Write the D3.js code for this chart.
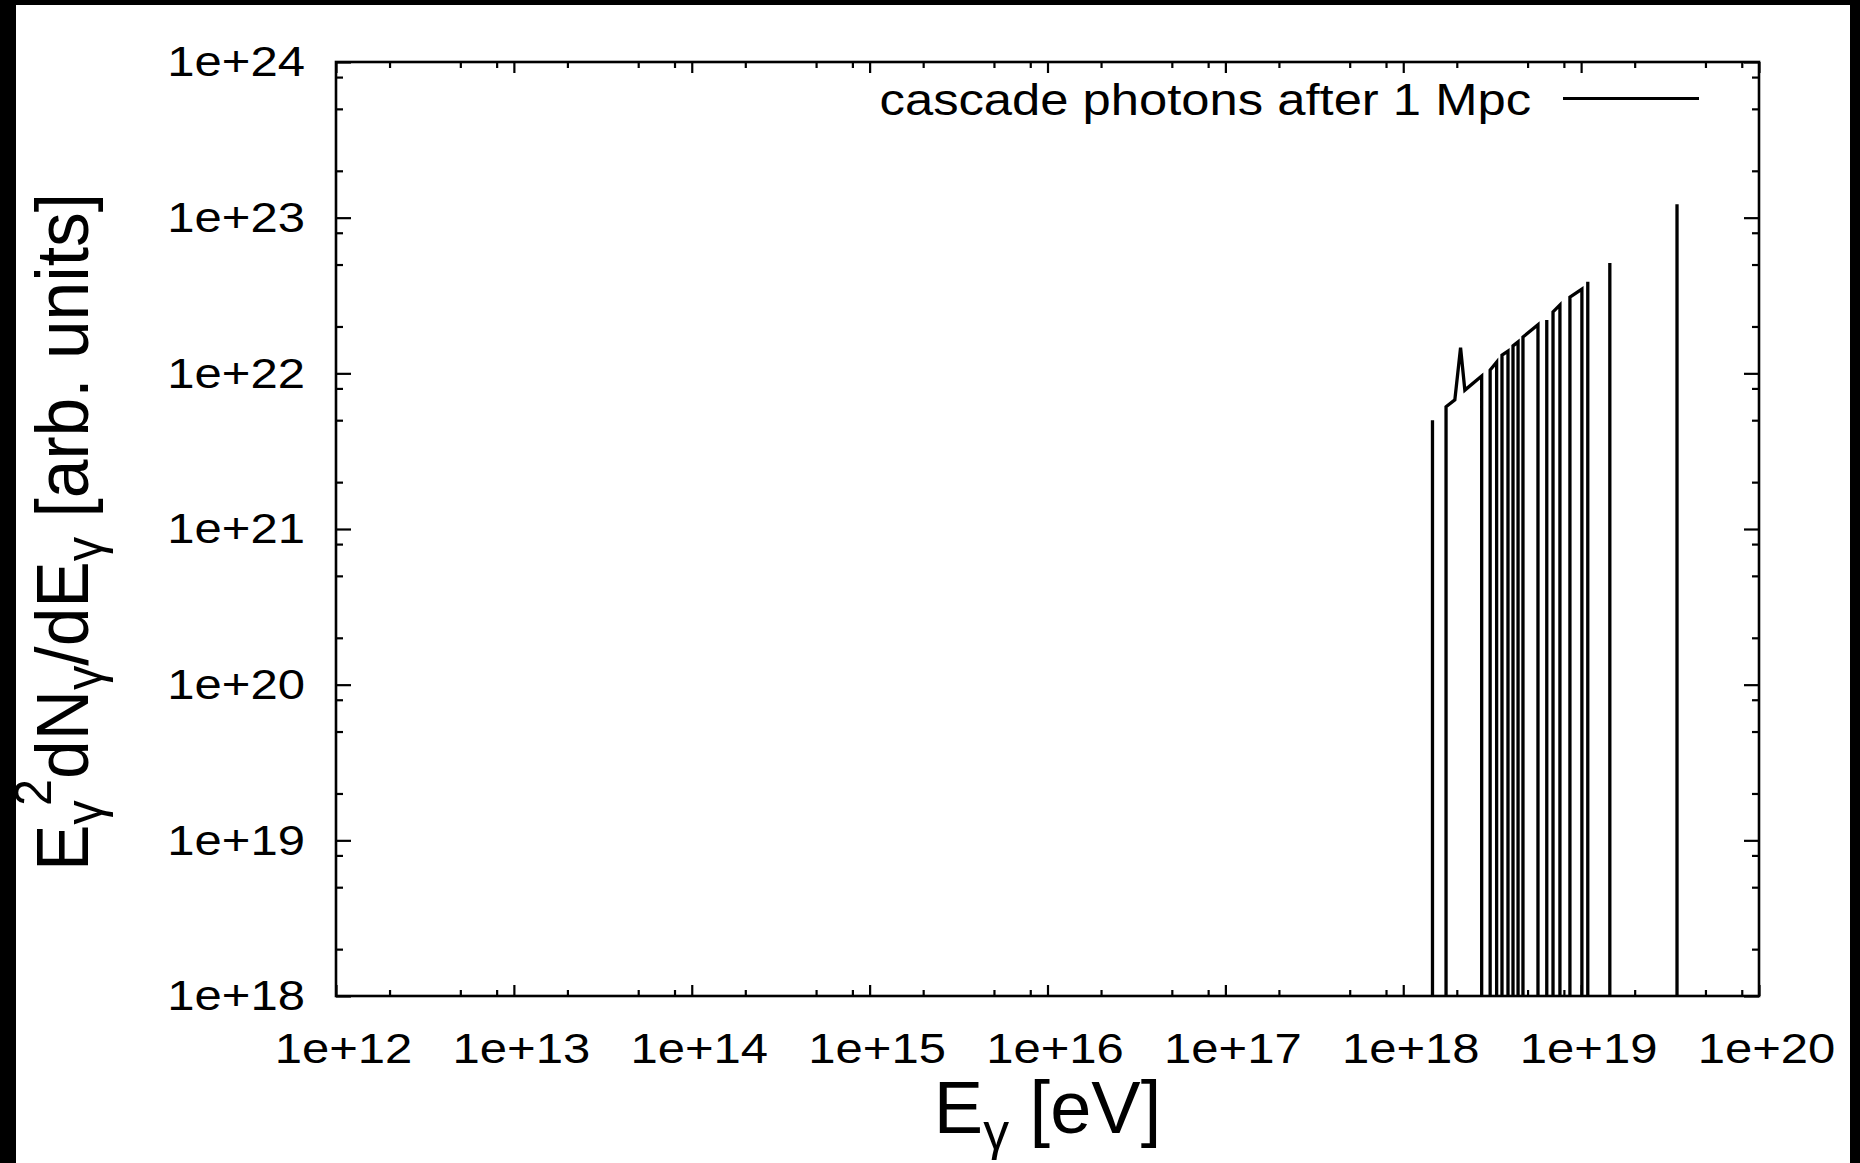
<!DOCTYPE html>
<html>
<head>
<meta charset="utf-8">
<script src="https://cdn.jsdelivr.net/npm/d3@7"></script>
<style>
  body { margin: 0; background: #000; overflow: hidden; }
  text { font-family: "Liberation Sans", Arial, sans-serif; fill: #000; }
</style>
</head>
<body>
<div class="chart"></div>
<script>
// Cascade photon spectrum after 1 Mpc
// only bins with content are listed; binRun groups bins that are neighbours,
// every run is drawn from the floor up through its bins and back down
let binEnergy = [1.46e18,
  1.74e18, 1.95e18, 2.10e18, 2.22e18, 2.76e18,
  3.08e18, 3.35e18,
  3.59e18, 3.88e18,
  4.14e18, 4.42e18,
  4.71e18, 5.72e18,
  6.41e18,
  6.95e18, 7.60e18,
  8.65e18, 1.01e19,
  1.09e19,
  1.45e19,
  3.46e19];
let binFlux = [5.0e21,
  6.1e21, 6.75e21, 1.46e22, 7.8e21, 9.6e21,
  1.05e22, 1.18e22,
  1.31e22, 1.39e22,
  1.50e22, 1.59e22,
  1.71e22, 2.05e22,
  2.20e22,
  2.48e22, 2.75e22,
  3.09e22, 3.48e22,
  3.87e22,
  5.11e22,
  1.22e23];
let binRun = [0, 1, 1, 1, 1, 1, 2, 2, 3, 3, 4, 4, 5, 5, 6, 7, 7, 8, 8, 9, 10, 11];

let xTickValues = [1e12, 1e13, 1e14, 1e15, 1e16, 1e17, 1e18, 1e19, 1e20];
let xTickLabels = ["1e+12", "1e+13", "1e+14", "1e+15", "1e+16", "1e+17", "1e+18", "1e+19", "1e+20"];
let yTickValues = [1e18, 1e19, 1e20, 1e21, 1e22, 1e23, 1e24];
let yTickLabels = ["1e+18", "1e+19", "1e+20", "1e+21", "1e+22", "1e+23", "1e+24"];
let minorSteps = [2, 5, 8];
let legendLabel = "cascade photons after 1 Mpc";

let svgWidth = 1860;
let svgHeight = 1163;

let margin = {
  top: 62,
  right: 101,
  bottom: 167,
  left: 336
};

let width = svgWidth - margin.left - margin.right;
let height = svgHeight - margin.top - margin.bottom;

let tickFont = 43;
let tickStretch = 1.14;

let svg = d3.select(".chart")
  .append("svg")
  .attr("width", svgWidth)
  .attr("height", svgHeight)
  .style("display", "block");

// white page inside the black frame of the picture
svg.append("rect")
  .attr("x", 16).attr("y", 5)
  .attr("width", 1834).attr("height", svgHeight - 5)
  .attr("fill", "#fff");

let chartGroup = svg.append("g")
  .attr("transform", `translate(${margin.left}, ${margin.top})`);

let xScale = d3.scaleLog().domain([1e12, 1e20]).range([0, width]);
let yScale = d3.scaleLog().domain([1e18, 1e24]).range([height, 0]);

function minorTicks(majors) {
  let out = [];
  majors.slice(0, -1).forEach(m => minorSteps.forEach(s => out.push(m * s)));
  return out;
}
let xMinor = minorTicks(xTickValues);
let yMinor = minorTicks(yTickValues);

function styleAxis(g) {
  g.select(".domain").remove();
  g.selectAll(".tick line").attr("stroke", "#000").attr("stroke-width", 2.2);
}

// major + minor ticks on all four sides, pointing inwards
chartGroup.append("g")
  .attr("transform", `translate(0, ${height})`)
  .call(d3.axisBottom(xScale).tickValues(xTickValues).tickSize(-11).tickPadding(36)
    .tickFormat((d, i) => xTickLabels[i]))
  .call(styleAxis)
  .call(g => g.selectAll("text")
    .attr("font-size", tickFont)
    .attr("font-family", "Liberation Sans, Arial, sans-serif")
    .attr("x", 7 / tickStretch)
    .attr("transform", `scale(${tickStretch},1)`));

chartGroup.append("g")
  .attr("transform", `translate(0, ${height})`)
  .call(d3.axisBottom(xScale).tickValues(xMinor).tickSize(-6).tickFormat(""))
  .call(styleAxis);

chartGroup.append("g")
  .call(d3.axisTop(xScale).tickValues(xTickValues).tickSize(-11).tickFormat(""))
  .call(styleAxis);
chartGroup.append("g")
  .call(d3.axisTop(xScale).tickValues(xMinor).tickSize(-6).tickFormat(""))
  .call(styleAxis);

chartGroup.append("g")
  .call(d3.axisLeft(yScale).tickValues(yTickValues).tickSize(-15).tickPadding(31 / tickStretch)
    .tickFormat((d, i) => yTickLabels[i]))
  .call(styleAxis)
  .call(g => g.selectAll("text")
    .attr("font-size", tickFont)
    .attr("font-family", "Liberation Sans, Arial, sans-serif")
    .attr("transform", `scale(${tickStretch},1)`));

chartGroup.append("g")
  .call(d3.axisLeft(yScale).tickValues(yMinor).tickSize(-7).tickFormat(""))
  .call(styleAxis);

chartGroup.append("g")
  .attr("transform", `translate(${width}, 0)`)
  .call(d3.axisRight(yScale).tickValues(yTickValues).tickSize(-15).tickFormat(""))
  .call(styleAxis);
chartGroup.append("g")
  .attr("transform", `translate(${width}, 0)`)
  .call(d3.axisRight(yScale).tickValues(yMinor).tickSize(-7).tickFormat(""))
  .call(styleAxis);

// plot border
chartGroup.append("rect")
  .attr("width", width)
  .attr("height", height)
  .attr("fill", "none")
  .attr("stroke", "#000")
  .attr("stroke-width", 2.6);

chartGroup.append("clipPath")
  .attr("id", "plotClip")
  .append("rect")
  .attr("width", width)
  .attr("height", height);

// build the runs of neighbouring bins
let runs = d3.groups(binEnergy.map((e, i) => ({ e: e, v: binFlux[i], run: binRun[i] })), d => d.run)
  .map(([, pts]) => {
    let floor = yScale.domain()[0] / 1e6;
    return [{ e: pts[0].e, v: floor }, ...pts, { e: pts[pts.length - 1].e, v: floor }];
  });

let line = d3.line()
  .x(d => xScale(d.e))
  .y(d => yScale(d.v));

chartGroup.append("g")
  .attr("clip-path", "url(#plotClip)")
  .selectAll("path")
  .data(runs)
  .enter()
  .append("path")
  .attr("d", line)
  .attr("fill", "none")
  .attr("stroke", "#000")
  .attr("stroke-width", 3.3)
  .attr("stroke-linejoin", "miter");

// legend
let legend = chartGroup.append("g");
legend.append("text")
  .attr("x", (1531 - margin.left) / tickStretch)
  .attr("y", 115 - margin.top)
  .attr("text-anchor", "end")
  .attr("font-size", tickFont * 1.035)
  .attr("transform", `scale(${tickStretch},1)`)
  .text(legendLabel);
legend.append("line")
  .attr("x1", 1563 - margin.left)
  .attr("x2", 1699 - margin.left)
  .attr("y1", 98.5 - margin.top)
  .attr("y2", 98.5 - margin.top)
  .attr("stroke", "#000")
  .attr("stroke-width", 2.8);

// axis titles
let titleFont = 74;
let xTitle = svg.append("text")
  .attr("x", margin.left + width / 2)
  .attr("y", 1133)
  .attr("text-anchor", "middle")
  .attr("font-size", titleFont);
xTitle.append("tspan").text("E");
xTitle.append("tspan").attr("font-size", titleFont * 0.7).attr("dy", 16).text("γ");
xTitle.append("tspan").attr("dy", -16).text(" [eV]");

let yTitle = svg.append("text")
  .attr("transform", `translate(88, ${margin.top + height / 2 + 3}) rotate(-90) scale(0.94,1)`)
  .attr("text-anchor", "middle")
  .attr("font-size", titleFont);
yTitle.append("tspan").text("E");
yTitle.append("tspan").attr("font-size", titleFont * 0.7).attr("dy", 14).text("γ");
yTitle.append("tspan").attr("font-size", titleFont * 0.7).attr("dx", -6).attr("dy", -51).text("2");
yTitle.append("tspan").attr("dy", 37).text("dN");
yTitle.append("tspan").attr("font-size", titleFont * 0.7).attr("dy", 14).text("γ");
yTitle.append("tspan").attr("dy", -14).text("/dE");
yTitle.append("tspan").attr("font-size", titleFont * 0.7).attr("dy", 14).text("γ");
yTitle.append("tspan").attr("dy", -14).text(" [arb. units]");
</script>
</body>
</html>
